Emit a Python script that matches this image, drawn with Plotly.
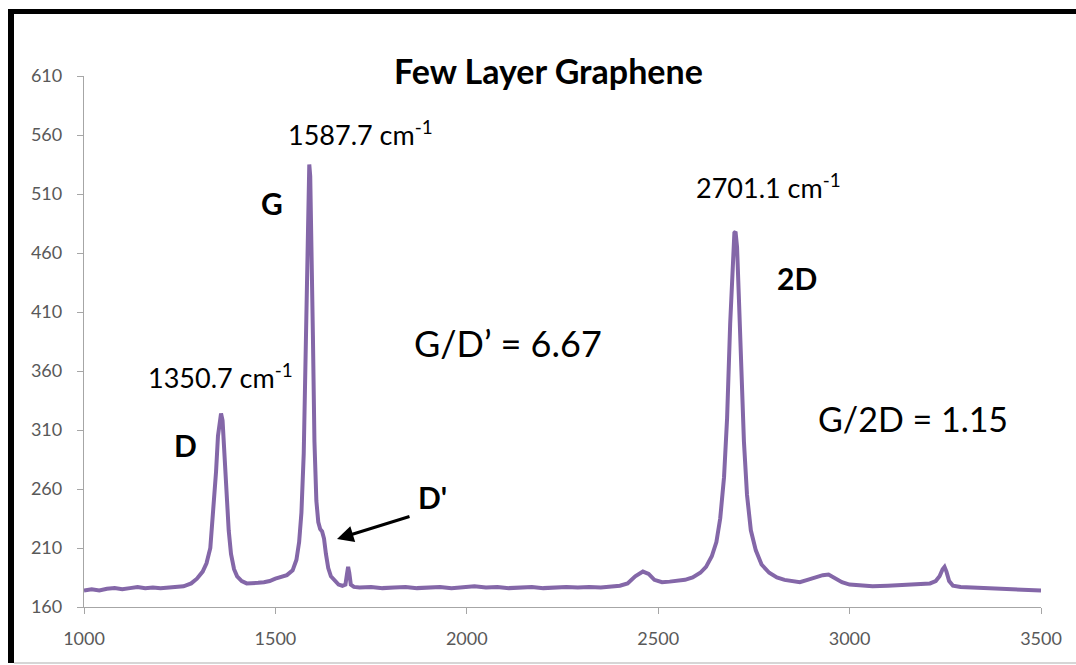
import plotly.graph_objects as go

# Raman shift (cm-1) and intensity
shift = [1000, 1020, 1040, 1060, 1080, 1100, 1120, 1140, 1160, 1180, 1200, 1220, 1240, 1260,
         1280, 1295, 1310, 1320, 1330, 1338, 1345, 1350, 1355, 1358, 1362, 1367, 1372, 1378,
         1384, 1392, 1400, 1412, 1425, 1440, 1455, 1470, 1485, 1500, 1515, 1530, 1545, 1555,
         1562, 1568, 1574, 1579, 1583, 1586, 1588.5, 1591, 1594, 1598, 1602, 1607, 1612, 1617,
         1622, 1627, 1632, 1638, 1645, 1655, 1665, 1675, 1683, 1687, 1690, 1693, 1697, 1705,
         1720, 1750, 1780, 1810, 1840, 1870, 1900, 1930, 1960, 1990, 2020, 2050, 2080, 2110,
         2140, 2170, 2200, 2230, 2260, 2290, 2320, 2350, 2380, 2400, 2420, 2440, 2460, 2475,
         2490, 2510, 2530, 2550, 2570, 2590, 2610, 2625, 2640, 2652, 2662, 2672, 2680, 2688,
         2694, 2699, 2702, 2706, 2711, 2717, 2724, 2732, 2742, 2755, 2770, 2790, 2810, 2830,
         2850, 2870, 2890, 2910, 2930, 2945, 2960, 2980, 3000, 3030, 3060, 3100, 3140, 3180,
         3210, 3225, 3235, 3243, 3248, 3253, 3260, 3270, 3290, 3320, 3360, 3400, 3440, 3480,
         3500]
intensity = [174, 175, 174, 175.5, 176, 175, 176, 177, 176, 176.5, 176, 176.5, 177, 177.5,
             180, 184, 190, 197, 210, 240, 275, 305, 322, 324, 318, 290, 255, 225,
             205, 192, 186, 182, 180, 180, 180.5, 181, 182, 184, 185.5, 187, 191, 200,
             215, 240, 290, 380, 460, 520, 535, 525, 480, 390, 300, 250, 232, 226,
             224, 218, 205, 193, 186, 182, 179, 178, 179, 188, 194, 189, 179, 177,
             176.5, 177, 176, 176.5, 177, 176, 176.5, 177, 176, 176.5, 177.5, 176.5, 177, 176,
             176.5, 177, 176, 176.5, 177, 176.5, 177, 176.5, 177, 178, 180, 186, 190, 188,
             183, 181, 181.5, 182, 183, 185, 189, 194, 203, 215, 235, 270, 320, 400,
             450, 477, 478, 465, 420, 360, 300, 255, 225, 208, 196, 189, 185, 183,
             182, 181, 183, 185, 187, 187.5, 185, 181, 179, 178, 177.5, 178, 178.5, 179,
             180, 182, 186, 192, 194, 190, 182, 178, 177, 176.5, 176, 175.5, 175, 174,
             174]

x_ticks = [1000, 1500, 2000, 2500, 3000, 3500]
y_ticks = [160, 210, 260, 310, 360, 410, 460, 510, 560, 610]

FONT = "Lato"
TICK_COLOR = "#595959"

fig = go.Figure()
fig.add_trace(go.Scatter(x=shift, y=intensity, mode="lines",
                         line=dict(color="#8467A8", width=4), showlegend=False))

# plot area: left 84, right 1041, top 76, bottom 607 (px)
W, H = 1076, 665
L, R, T, B = 84, 1041, 76, 607
pw, ph = R - L, B - T


def px(xp):
    return (xp - L) / pw


def py(yp):
    return (B - yp) / ph


fig.update_layout(
    width=W, height=H,
    margin=dict(l=L, r=W - R, t=T, b=H - B, pad=0),
    paper_bgcolor="white", plot_bgcolor="white",
    font=dict(family=FONT, color="black"),
    xaxis=dict(range=[1000, 3500], tickvals=x_ticks, showgrid=False, zeroline=False,
               showline=True, linecolor="#a6a6a6", linewidth=1.3,
               ticks="outside", ticklen=6, tickcolor="#a6a6a6", tickwidth=1.3,
               tickfont=dict(family=FONT, size=18, color=TICK_COLOR), ticklabelstandoff=9),
    yaxis=dict(range=[160, 610], tickvals=y_ticks, showgrid=False, zeroline=False,
               showline=True, linecolor="#a6a6a6", linewidth=1.3,
               ticks="outside", ticklen=6, tickcolor="#a6a6a6", tickwidth=1.3,
               tickfont=dict(family=FONT, size=18, color=TICK_COLOR), ticklabelstandoff=11),
)

# frame: thick black left and top, thin gray bottom
fig.add_shape(type="line", xref="paper", yref="paper", x0=px(11), x1=px(11), y0=py(9), y1=py(663),
              line=dict(color="black", width=6))
fig.add_shape(type="line", xref="paper", yref="paper", x0=px(8), x1=px(1080), y0=py(11.5), y1=py(11.5),
              line=dict(color="black", width=5))
fig.add_shape(type="line", xref="paper", yref="paper", x0=px(14), x1=px(1080), y0=py(663), y1=py(663),
              line=dict(color="#c8c8c8", width=1.5))


def label(text, xp, yp, size, bold=False):
    fig.add_annotation(xref="paper", yref="paper", x=px(xp), y=py(yp), text=text,
                       showarrow=False, xanchor="center", yanchor="middle",
                       font=dict(family=FONT, size=size, color="black",
                                 weight="bold" if bold else "normal"))


label("Few Layer Graphene", 548, 70, 34, bold=True)
label("1587.7 cm<sup>-1</sup>", 360, 133, 27)
label("1350.7 cm<sup>-1</sup>", 220, 376, 27)
label("2701.1 cm<sup>-1</sup>", 768, 186, 27)
label("G", 272, 203, 30, bold=True)
label("D", 185, 445, 30, bold=True)
label("2D", 797, 278, 30, bold=True)
label("D'", 432, 497, 30, bold=True)
label("G/D’ = 6.67", 508, 343, 36)
label("G/2D = 1.15", 913, 418, 34)

# arrow pointing to D' shoulder
fig.add_annotation(xref="paper", yref="paper", x=px(337), y=py(539),
                   axref="pixel", ayref="pixel", ax=411 - 337, ay=516 - 539,
                   text="", showarrow=True, arrowhead=2, arrowsize=1.1, arrowwidth=3,
                   arrowcolor="black", standoff=0)

fig.write_html("out.html")
